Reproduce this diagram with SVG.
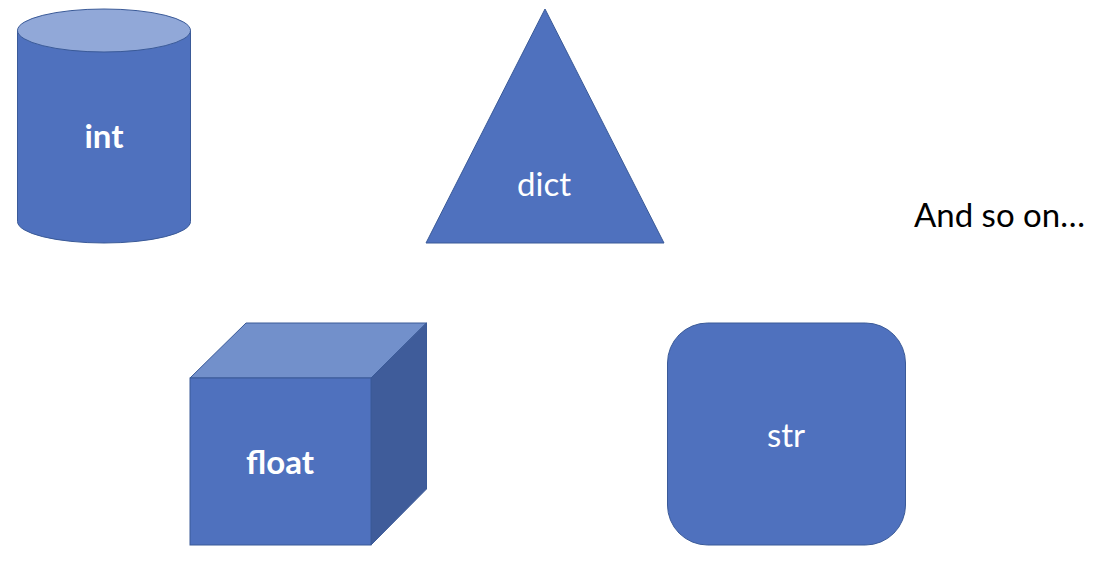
<svg xmlns="http://www.w3.org/2000/svg" width="1098" height="564" viewBox="0 0 1098 564">
<style>
.shape{fill:#4F71BE;stroke:#3A5A98;stroke-width:1}
.top{fill:#91A8D8}
.ctop{fill:#7290CB}
.side{fill:#3F5C9A}
.lbl{font-family:Lato,"Open Sans",sans-serif;fill:#ffffff;text-anchor:middle}
.b{font-weight:bold;font-size:33px}
.r{font-size:33px}
</style>
<rect width="1098" height="564" fill="#ffffff"/>
<g id="int">
<path class="shape" d="M17.5,30.5 L17.5,221.5 A86.5,21.5 0 0 0 190.5,221.5 L190.5,30.5 Z"/>
<ellipse class="shape top" cx="104" cy="30.5" rx="86.5" ry="21.5"/>
<text class="lbl b" x="104" y="148">int</text>
</g>
<g id="dict">
<polygon class="shape" points="545,9 664,243 426,243"/>
<text class="lbl r" x="544" y="196">dict</text>
</g>
<g id="float">
<polygon class="shape ctop" points="190,378 246,323 426.5,323 371,378"/>
<polygon class="shape side" points="371,378 426.5,323 426.5,489 371,545"/>
<rect class="shape" x="190" y="378" width="181" height="167"/>
<text class="lbl b" x="280" y="474">float</text>
</g>
<g id="str">
<rect class="shape" x="667.5" y="323" width="238" height="222" rx="40" ry="40"/>
<text class="lbl r" x="786" y="447">str</text>
</g>
<g id="note">
<text x="914" y="227" font-family="Lato,'Open Sans',sans-serif" font-size="33" fill="#000000">And so on…</text>
</g>
<g id="connectors"></g>
</svg>
